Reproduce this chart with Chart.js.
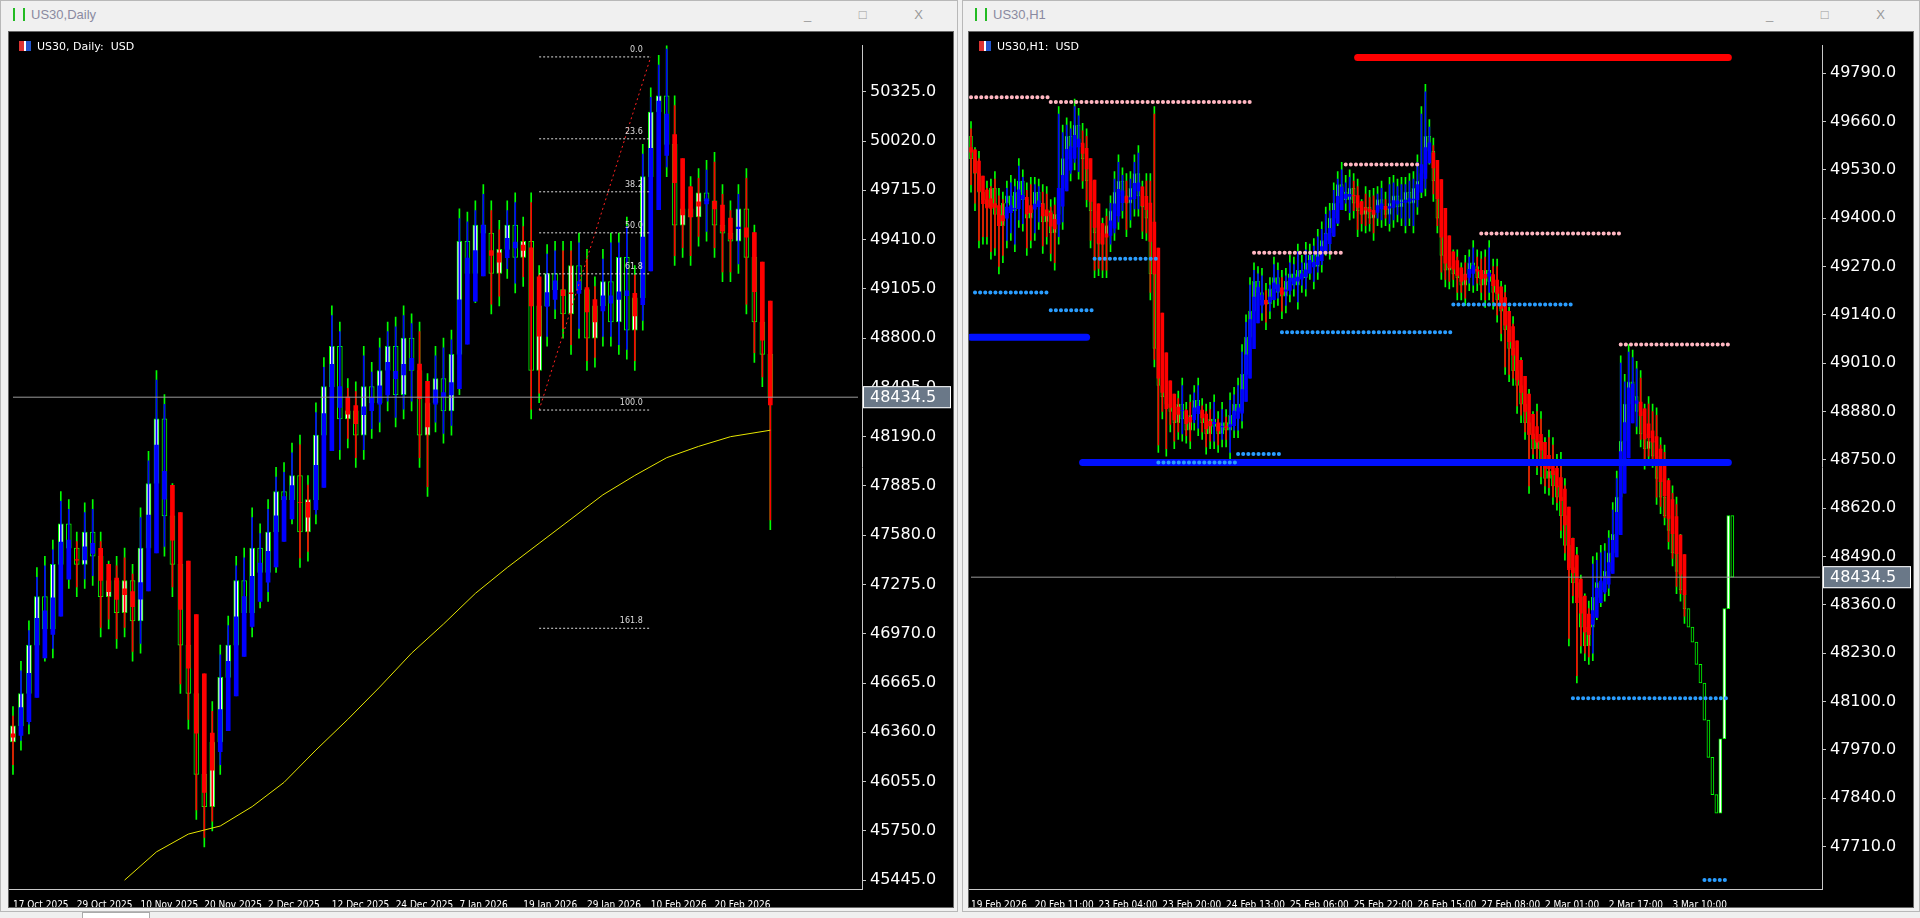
<!DOCTYPE html>
<html><head><meta charset="utf-8">
<script src="https://cdn.jsdelivr.net/npm/chart.js@4"></script>
<style>
body{margin:0;width:1920px;height:918px;background:#f0f0f0;overflow:hidden;font-family:"Liberation Sans",sans-serif}
.win{position:absolute;top:0;height:912px;background:#f0f0f0;border:1px solid #b8b8b8;box-sizing:border-box}
.tb{position:absolute;left:0;top:0;right:0;height:28px;font-size:13px;color:#8a8aa0;line-height:28px;padding-left:30px}
.ico{position:absolute;left:12px;top:7px;width:12px;height:13px;border:2px solid #22bb22;border-top:none;border-bottom:none;box-sizing:border-box}
.btns{position:absolute;right:12px;top:0;color:#999;font-size:13px;letter-spacing:22px}
.area{position:absolute;top:30px;background:#000;border:1px solid #666}
.hdr{position:absolute;left:10px;top:8px;color:#fff;font-size:11px;font-family:"DejaVu Sans",sans-serif;z-index:2}
.flag{display:inline-block;width:12px;height:10px;background:linear-gradient(90deg,#d33 45%,#fff 45% 55%,#2255cc 55%);margin-right:6px;vertical-align:-1px}
canvas{position:absolute;left:0;top:0}
</style></head><body>
<div class="win" style="left:0;width:958px"><div class="tb"><div class="ico"></div>US30,Daily<span class="btns">_ □ X</span></div>
<div class="area" style="left:7px;width:944px;height:875px"><div class="hdr"><span class="flag"></span>US30, Daily:&nbsp; USD</div><canvas id="c1" width="944" height="875"></canvas></div></div>
<div class="win" style="left:962px;width:958px"><div class="tb"><div class="ico"></div>US30,H1<span class="btns">_ □ X</span></div>
<div class="area" style="left:5px;width:944px;height:875px"><div class="hdr"><span class="flag"></span>US30,H1:&nbsp; USD</div><canvas id="c2" width="944" height="875"></canvas></div></div>
<div style="position:absolute;left:82px;top:912px;width:66px;height:6px;background:#fff;border:1px solid #aaa"></div>
<script>
// ---------- DAILY DATA ----------
const dailyTickLabels=[[0,'17 Oct 2025'],[8,'29 Oct 2025'],[16,'10 Nov 2025'],[24,'20 Nov 2025'],[32,'2 Dec 2025'],[40,'12 Dec 2025'],[48,'24 Dec 2025'],[56,'7 Jan 2026'],[64,'19 Jan 2026'],[72,'29 Jan 2026'],[80,'10 Feb 2026'],[88,'20 Feb 2026']];
const dailyFirstOpen=46300;
const dailyClose=[46400,46600,46900,47200,47000,47400,
47650,47500,47400,47600,47450,47200,47300,
47100,47300,47050,47500,47900,48300,
47700,47400,46900,46600,
46100,45900,46300,46700,
46900,47300,47100,47500,47350,47600,47850,
47800,47950,47600,47800,48200,48500,48750,
48300,48350,48200,48500,48400,48600,48750,48450,
48800,48600,48200,48400,48550,48350,48700,
49400,49200,49500,49450,49200,49350,49500,
49300,49400,48600,
49000,49200,49100,48950,49250,49100,48800,49000,49150,48900,49300,48850,49050,
49800,50200,50300,50000,
49500,49600,49550,49700,49650,49500,49450,49400,49600,49300,
48900,48700,48434.5];
const dailyWickUp=[120,200,150,180,250,150, 200,150,100,180,200,150,120, 150,200,100,250,200,300, 150,200,180,250, 300,200,250,200, 180,150,200,250,150,200,150, 180,200,250,150,200,180,250, 150,200,180,250,150,200,150,180, 200,150,300,180,200,250,150, 200,180,150,250,200,180,150, 200,150,300, 250,180,200,300,150,200,250,180,200,300,150,250,200, 200,150,250,350, 300,250,200,150,200,300,250,200,150,250, 200,150,100];
const dailyWickDn=[200,150,250,120,200,180, 150,250,200,150,180,250,200, 220,150,250,200,180,150, 250,200,300,220, 280,250,150,200, 180,250,200,150,220,180,250, 200,150,220,180,150,250,200, 250,180,200,150,220,180,250,200, 150,250,200,380,180,200,150, 250,200,180,150,250,200,180, 220,180,300, 200,250,180,150,250,300,200,180,250,150,200,180,250, 200,250,180,200, 250,200,300,180,250,200,300,250,200,350, 250,200,820];
const dailyMA={14:45445,18:45620,22:45730,26:45780,30:45900,34:46050,38:46250,42:46440,46:46640,50:46850,54:47030,58:47220,62:47380,66:47530,70:47680,74:47830,78:47950,82:48060,86:48130,90:48190,95:48230};
const dailyFib=[['0.0',50541],['23.6',50034],['38.2',49706],['50.0',49452],['61.8',49198],['100.0',48355],['161.8',47004]];
const dailyFibSpan=[66,80];
const dailyTicks=[45445,45750,46055,46360,46665,46970,47275,47580,47885,48190,48495,48800,49105,49410,49715,50020,50325];
const lastPrice=48434.5;

// ---------- H1 DATA ----------
const hourTickLabels=[[0,'19 Feb 2026'],[16,'20 Feb 11:00'],[32,'23 Feb 04:00'],[48,'23 Feb 20:00'],[64,'24 Feb 13:00'],[80,'25 Feb 06:00'],[96,'25 Feb 22:00'],[112,'26 Feb 15:00'],[128,'27 Feb 08:00'],[144,'2 Mar 01:00'],[160,'2 Mar 17:00'],[176,'3 Mar 10:00']];
const hourFirstOpen=49620;
const hourClose=[49560,49520,49470,49450,
49430,49480,49410,49380,49440,49460,49420,49470,49500,49450,49400,49430,49470,49440,49390,49420,49360,49410,
49480,49560,49620,49590,49650,49600,49560,49500,
49420,49360,49330,49350,49380,
49420,49470,49500,49460,49440,49480,49520,49460,49430,49400,
49250,49050,48950,48920,48900,
48880,48850,48900,48860,48830,48870,48910,48880,48850,48820,48860,48840,
48820,48850,48830,48870,48900,48880,
48980,49080,49150,49230,49200,49180,
49170,49210,49240,49200,49190,49230,49250,49220,49260,49240,49280,49300,49270,49310,49340,49360,
49400,49440,49490,49470,49450,49480,
49440,49420,49410,49430,49400,49420,49450,49430,49410,49440,49460,49430,49450,49470,49440,49480,49500,49520,
49620,49580,49500,
49400,49300,49260,49270,49250,
49240,49220,49250,49280,49270,49240,49220,49260,49230,49200,49180,49150,
49100,49050,48990,48950,48900,48850,
48820,48780,48800,48740,48700,48720,48680,48650,
48600,48520,48460,48420,48380,48300,48250,48300,
48380,48420,48400,48450,48500,48550,
48650,48800,48900,48960,48920,48880,
48820,48780,48800,48760,48700,48650,
48600,48560,48500,48450,48400,48350,48300,48260,48200,48150,
48050,47950,47850,47800,
48000,48350,48600,48434.5];
const hourWick=[40,30,60,35,50,25,45,70,30,40,55,35,60,30,45,80,40,35,50,65,30,45,
60,90,50,40,70,45,55,80,40,60,35,50,45,
40,55,70,35,60,45,50,75,40,90,120,80,60,45,50,
60,40,35,70,45,55,40,60,35,50,45,65,40,55,35,60,45,70,
80,60,90,50,40,65,45,30,55,40,60,35,50,45,70,40,55,30,45,60,
50,70,40,55,35,60,45,50,40,65,30,55,45,60,35,50,40,70,55,45,60,40,
50,45,70,60,80,45,35,50,60,40,55,45,65,40,50,35,60,45,
70,55,80,60,90,50,70,60,85,55,75,65,90,60,
100,80,70,110,90,85,120,100,70,80,95,60,
90,70,110,80,100,75,60,85,
70,90,80,100,85,95,110,80,120,100,
130,110,140,100,120,150,100,90];
const hourSpikes={22:49700,46:49700,0:49650,114:49760,113:49700,187:47620,186:47700,150:48250,152:48150,163:49030,47:48770,49:48760,165:49040,140:48660,60:48780,190:48700};
const hourRes=[[0,20,49725],[20,70,49712],[71,94,49307],[94,113,49544],[128,163,49359],[163,190,49060]];
const hourSup=[[1,20,49200],[20,31,49152],[31,47,49291],[47,67,48743],[67,78,48766],[78,121,49093],[121,151,49168],[151,190,48109],[184,190,47620]];
const hourBigRed=[[97,190,49832]];
const hourBigBlue=[[28,190,48743],[0,29,49080]];
const hourTicks=[47710,47840,47970,48100,48230,48360,48490,48620,48750,48880,49010,49140,49270,49400,49530,49660,49790];

// ---------- helpers ----------
function ohlc(firstOpen,close,up,dn,spikes){
  const o=[],h=[],l=[];
  close.forEach((c,i)=>{const op=i?close[i-1]:firstOpen;o.push(op);
    let hi=Math.max(op,c)+(up?up[i]:0),lo=Math.min(op,c)-(dn?dn[i]:0);
    if(spikes&&spikes[i]!==undefined){if(spikes[i]>hi)hi=spikes[i];if(spikes[i]<lo)lo=spikes[i];}
    h.push(hi);l.push(lo);});
  return {o,h,l,c:close};
}
function heikin(d){
  const ho=[],hc=[],hh=[],hl=[];
  d.c.forEach((c,i)=>{const C=(d.o[i]+d.h[i]+d.l[i]+c)/4;const O=i?(ho[i-1]+hc[i-1])/2:(d.o[i]+c)/2;
    ho.push(O);hc.push(C);hh.push(Math.max(d.h[i],O,C));hl.push(Math.min(d.l[i],O,C));});
  return {ho,hc,hh,hl};
}
function seg(a,b,v){return [{x:String(a),y:v},{x:String(b),y:v}];}
function lineDS(data,color,w,dash,order,cap){return {type:'line',data,borderColor:color,borderWidth:w,borderDash:dash||[],borderCapStyle:cap||'butt',pointRadius:0,fill:false,order,tension:0,spanGaps:true};}

function build(id,d,opts){
  const N=d.c.length+opts.pad;
  const labels=Array.from({length:N},(_,i)=>String(i));
  const ha=heikin(d);
  const tickMap=new Map(opts.tickLabels);
  const ds=[];
  const haCol=ha.hc.map((c,i)=>c>=ha.ho[i]?'#0000ff':'#ff0000');
  ds.push({type:'bar',data:d.c.map((c,i)=>[d.l[i],d.h[i]]),backgroundColor:'#00ff00',barThickness:1,grouped:false,order:9});
  ds.push({type:'bar',data:d.c.map((c,i)=>[Math.min(d.o[i],c),Math.max(d.o[i],c)]),backgroundColor:d.c.map((c,i)=>c>=d.o[i]?'#ffffff':'#000000'),borderColor:'#00ff00',borderWidth:1,borderSkipped:false,barThickness:opts.body,grouped:false,order:8});
  ds.push({type:'bar',data:ha.hc.map((c,i)=>[Math.min(ha.hl[i]+opts.haTrim,ha.ho[i],c),Math.max(ha.hh[i]-opts.haTrim,ha.ho[i],c)]),backgroundColor:haCol,barThickness:1,grouped:false,order:7});
  ds.push({type:'bar',data:ha.hc.map((c,i)=>[Math.min(ha.ho[i],c),Math.max(ha.ho[i],c)]),backgroundColor:haCol,barThickness:opts.haBody,grouped:false,order:6});
  opts.extra.forEach(e=>ds.push(e));
  ds.push(lineDS(seg(0,N-1,lastPrice),'#9a9a9a',1,[],1));
  const plugin={id:'deco'+id,afterDraw(ch){
    const c=ch.ctx,y=ch.scales.y,x=ch.scales.x,a=ch.chartArea;
    const py=y.getPixelForValue(lastPrice);
    c.save();c.fillStyle='#6a7888';c.fillRect(a.right+1,py-11,88,22);
    c.strokeStyle='#fff';c.lineWidth=1;c.strokeRect(a.right+1.5,py-10.5,87,21);
    c.fillStyle='#fff';c.font='16px "DejaVu Sans"';c.textBaseline='middle';c.fillText('48434.5',a.right+8,py+1);
    if(opts.fibText){c.font='8px "DejaVu Sans"';c.fillStyle='#ddd';c.textAlign='right';
      opts.fibText.forEach(f=>c.fillText(f[0],x.getPixelForValue(opts.fibSpan[1])-8,y.getPixelForValue(f[1])-7));}
    c.restore();}};
  new Chart(document.getElementById(id),{data:{labels,datasets:ds},plugins:[plugin],
    options:{responsive:false,animation:false,events:[],layout:{padding:0},
      plugins:{legend:{display:false},tooltip:{enabled:false}},
      scales:{
        x:{offset:true,grid:{display:false,drawTicks:true},border:{color:'#c8c8c8'},
          ticks:{autoSkip:false,maxRotation:0,align:'start',padding:2,color:'#fff',font:{family:'"DejaVu Sans Condensed","Liberation Sans"',size:10},
            callback:(v,i)=>tickMap.has(i)?tickMap.get(i):''},
          afterFit:s=>{s.height=18;}},
        y:{position:'right',min:opts.min,max:opts.max,grid:{drawOnChartArea:false,color:'#c8c8c8',tickLength:4},border:{color:'#c8c8c8'},
          afterBuildTicks:s=>{s.ticks=opts.ticks.map(v=>({value:v}));},
          ticks:{color:'#fff',padding:4,font:{family:'"DejaVu Sans"',size:16},callback:v=>Number(v).toFixed(1)},
          afterFit:s=>{s.width=91;}}
      }}});
}

// daily
const dd=ohlc(dailyFirstOpen,dailyClose,dailyWickUp,dailyWickDn);
const dExtra=[];
dExtra.push(lineDS(Object.entries(dailyMA).map(([k,v])=>({x:k,y:v})),'#e6e600',1,[],3));
dailyFib.forEach(f=>dExtra.push(lineDS(seg(dailyFibSpan[0],dailyFibSpan[1],f[1]),'#dddddd',1,[2,2],2)));
dExtra.push(lineDS([{x:String(dailyFibSpan[0]),y:48355},{x:String(dailyFibSpan[1]),y:50541}],'#ff2020',1,[2,3],2));
build('c1',dd,{pad:11,tickLabels:dailyTickLabels,min:45390,max:50611,ticks:dailyTicks,body:5,haBody:4,haTrim:60,extra:dExtra,fibText:dailyFib,fibSpan:dailyFibSpan});

// hourly
const hd=ohlc(hourFirstOpen,hourClose,hourWick,hourWick.slice().reverse(),hourSpikes);
const hExtra=[];
hourBigBlue.forEach(s=>hExtra.push(lineDS(seg(...s),'#0010ff',7,[],3,'round')));
hourBigRed.forEach(s=>hExtra.push(lineDS(seg(...s),'#ff0000',7,[],3,'round')));
hourRes.forEach(s=>hExtra.push(lineDS(seg(...s),'#ffb6c1',4,[0.1,5],2,'round')));
hourSup.forEach(s=>hExtra.push(lineDS(seg(...s),'#2a9dff',4,[0.1,5],2,'round')));
build('c2',hd,{pad:22,tickLabels:hourTickLabels,min:47596,max:49864,ticks:hourTicks,body:3,haBody:3,haTrim:20,extra:hExtra});
</script></body></html>
